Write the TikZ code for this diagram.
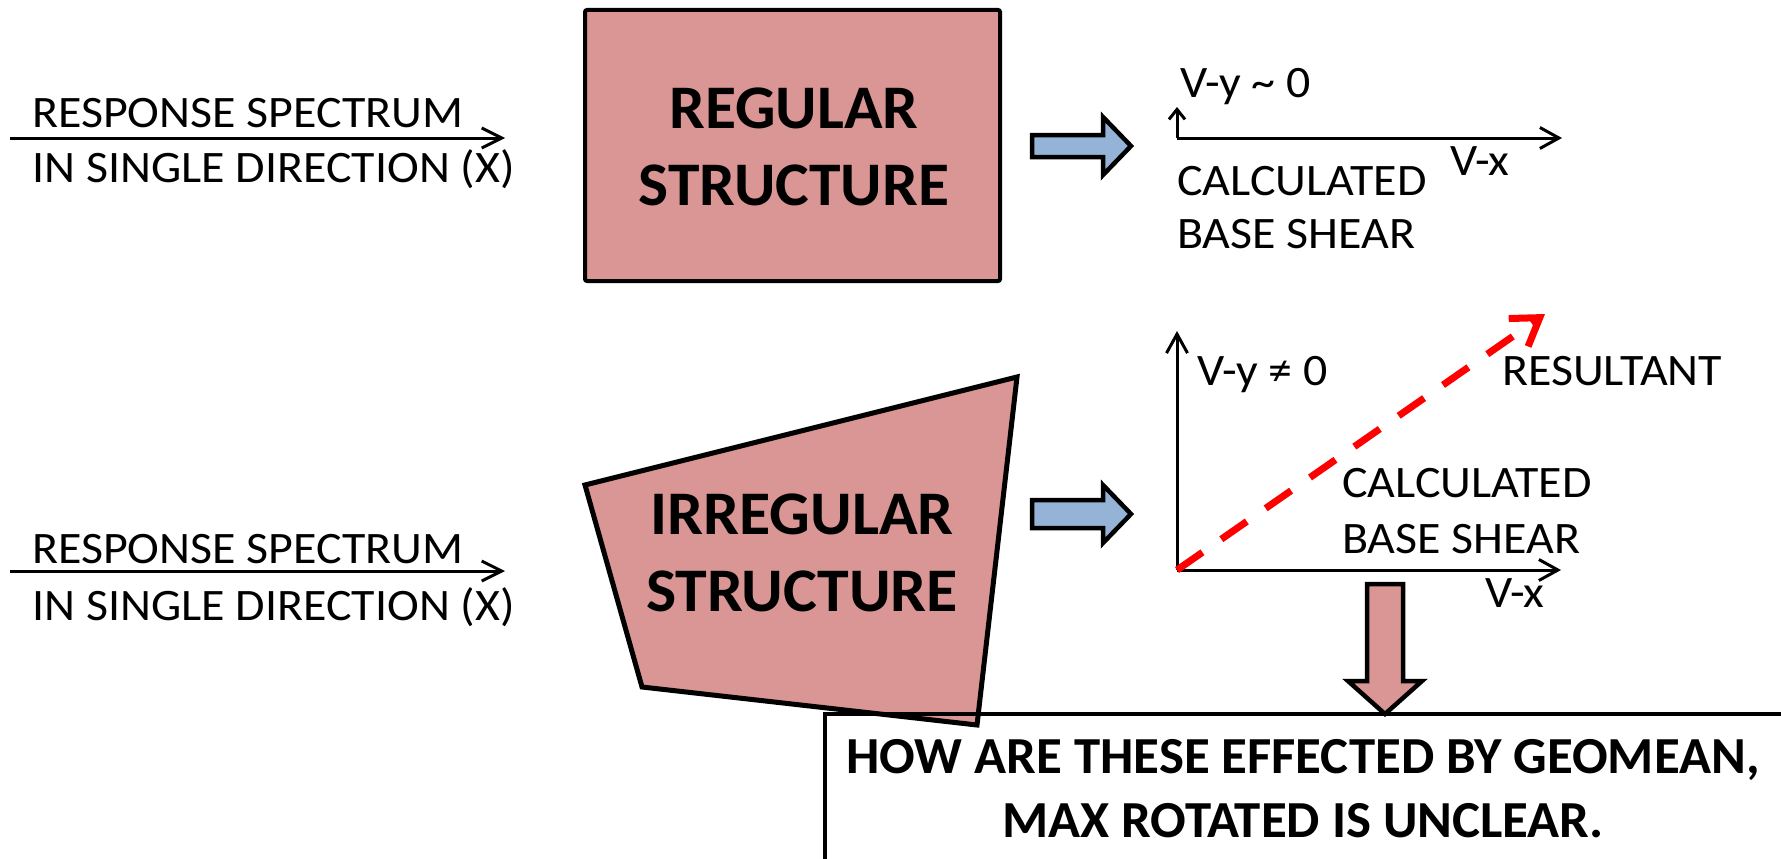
\documentclass[tikz,border=0pt]{standalone}
\usepackage{fontspec}
\setmainfont{Carlito}
\newfontfamily\regfont[FakeStretch=1.065]{Carlito}
\newfontfamily\boxfont[FakeStretch=1.025]{Carlito}
\newfontfamily\irrfont[FakeStretch=1.03]{Carlito}
\newfontfamily\qfont[FakeStretch=1.016]{Carlito}
\usetikzlibrary{arrows.meta}
\definecolor{pinkfill}{HTML}{D99694}
\definecolor{bluefill}{HTML}{95B3D7}
\definecolor{resred}{HTML}{FF0000}
\tikzset{
  txt/.style={font=\regfont\fontsize{45}{54}\selectfont, inner sep=0pt, anchor=base west},
  bigtxt/.style={font=\boxfont\bfseries\fontsize{62}{77}\selectfont, inner sep=0pt, align=center},
  irrtxt/.style={font=\irrfont\bfseries\fontsize{62}{77}\selectfont, inner sep=0pt, align=center},
  qtxt/.style={font=\qfont\bfseries\fontsize{52}{64}\selectfont, inner sep=0pt, align=center},
  inarrow/.style={line width=3pt, -{Straight Barb[length=20pt,width=20pt,line width=3pt]}},
  axis/.style={line width=3pt, -{Straight Barb[length=19pt,width=21pt,line width=3pt]}},
  smallaxis/.style={line width=3pt, -{Straight Barb[length=10pt,width=16pt,line width=3pt]}},
  resarrow/.style={draw=resred, line width=7pt, dash pattern=on 31pt off 23pt,
     -{Straight Barb[length=26pt,width=34pt,line width=7pt]}},
  blockblue/.style={draw=black, line width=4.5pt, fill=bluefill, line join=miter},
  blockpink/.style={draw=black, line width=4.5pt, fill=pinkfill, line join=miter},
  structbox/.style={draw=black, line width=4pt, fill=pinkfill, rounded corners=2pt},
  qbox/.style={draw=black, line width=4pt}
}
\begin{document}
\begin{tikzpicture}[x=1pt, y=-1pt]
\clip (0,0) rectangle (1781,859);
\fill[white] (0,0) rectangle (1781,859);

% upper input
\node[txt] (rs1) at (32,127) {RESPONSE SPECTRUM};
\node[txt] (rs2) at (32,182) {IN SINGLE DIRECTION (X)};
\coordinate (ina) at (10,138);
\coordinate (inb) at (505,138);
\draw[inarrow] (ina) -- (inb);

% lower input
\node[txt] (rs3) at (32,563) {RESPONSE SPECTRUM};
\node[txt] (rs4) at (32,620) {IN SINGLE DIRECTION (X)};
\coordinate (inc) at (10,571);
\coordinate (ind) at (505,571);
\draw[inarrow] (inc) -- (ind);

% regular structure
\draw[structbox] (585,10) rectangle (1000,281);
\node[bigtxt] (reg) at (794,146.5) {REGULAR\\STRUCTURE};

% irregular structure
\draw[blockpink, line width=5pt] (585,485) -- (1017,377) -- (977,725) -- (642,687) -- cycle;
\node[irrtxt] (irr) at (802,552.5) {IRREGULAR\\STRUCTURE};

% blue arrows
\draw[blockblue] (1032,135) -- (1103,135) -- (1103,117) -- (1131,146) -- (1103,175) -- (1103,157) -- (1032,157) -- cycle;
\draw[blockblue] (1032,500) -- (1103,500) -- (1103,485) -- (1131,514) -- (1103,543) -- (1103,528) -- (1032,528) -- cycle;

% upper axes
\coordinate (o1) at (1177,138);
\coordinate (y1) at (1177,107);
\coordinate (x1) at (1562,138);
\draw[smallaxis] (o1) -- (y1);
\draw[axis] (o1) -- (x1);
\node[txt] (vy1) at (1180,98) {V-y \textasciitilde{} 0};
\node[txt] (vx1) at (1450,175) {V-x};
\node[txt] (cb1) at (1177,195) {CALCULATED};
\node[txt] (cb2) at (1177,248) {BASE SHEAR};

% lower axes
\coordinate (o2) at (1177,570);
\coordinate (y2) at (1177,331);
\coordinate (x2) at (1561,570);
\coordinate (r2) at (1545,314);
\draw[axis] (o2) -- (y2);
\draw[axis] (o2) -- (x2);
\draw[resarrow] (o2) -- (r2);
\node[txt] (vy2) at (1197,385) {V-y ≠ 0};
\node[txt] (rt) at (1502,385) {RESULTANT};
\node[txt] (cb3) at (1342,497) {CALCULATED};
\node[txt] (cb4) at (1342,553) {BASE SHEAR};
\node[txt] (vx2) at (1485,607) {V-x};

% pink down arrow
\draw[blockpink] (1367,584) -- (1403,584) -- (1403,681) -- (1422,681) -- (1385,714) -- (1348,681) -- (1367,681) -- cycle;

% question box
\draw[qbox] (825,714) rectangle (1785,900);
\node[qtxt] (q) at (1303,788.5) {HOW ARE THESE EFFECTED BY GEOMEAN,\\MAX ROTATED IS UNCLEAR.};
\end{tikzpicture}
\end{document}
